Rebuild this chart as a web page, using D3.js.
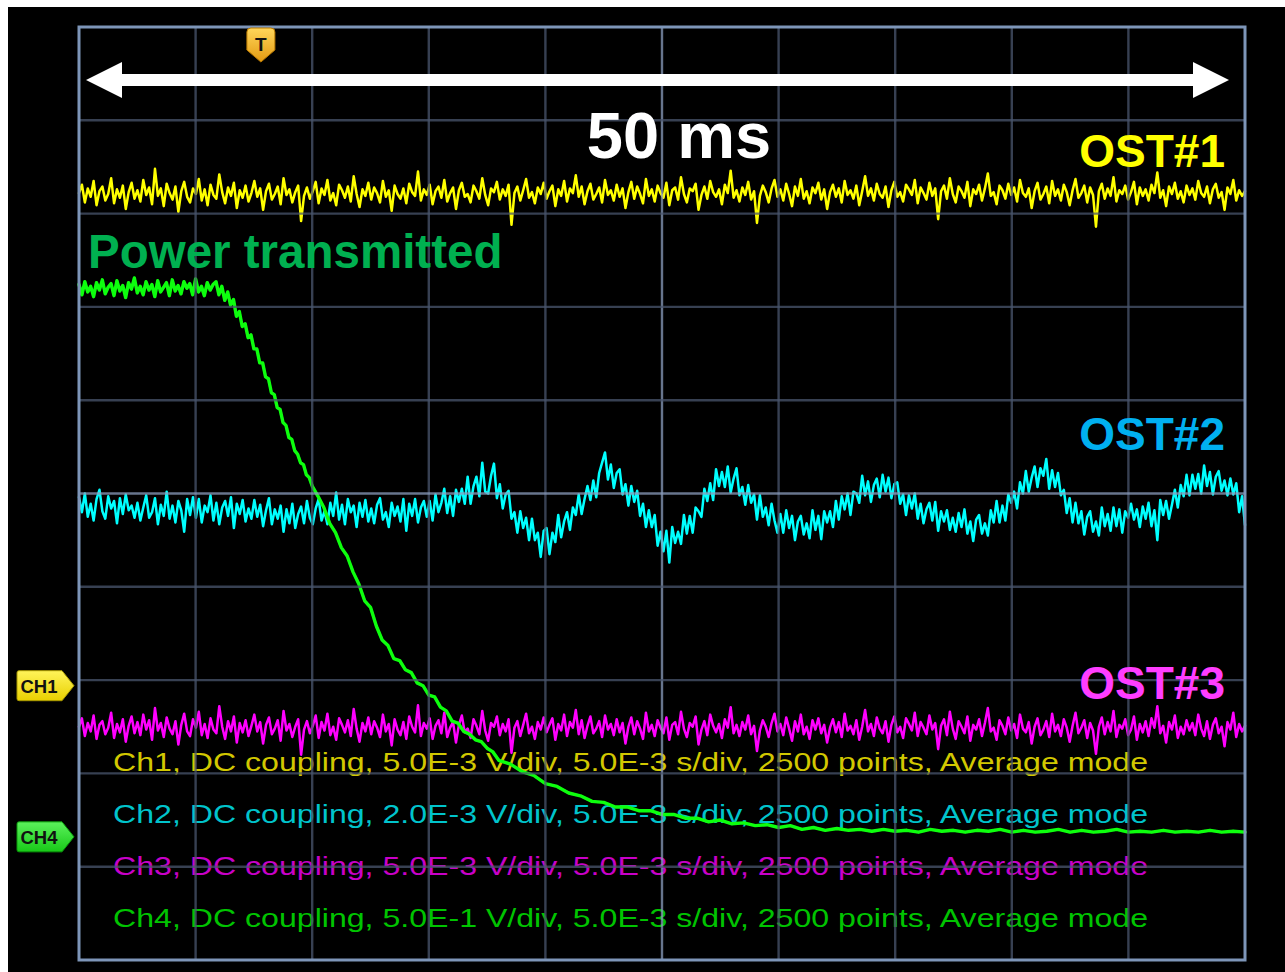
<!DOCTYPE html>
<html>
<head>
<meta charset="utf-8">
<script src="https://cdn.jsdelivr.net/npm/d3@7"></script>
<style>
html,body{margin:0;padding:0;background:#ffffff;}
svg{display:block;}
</style>
</head>
<body>
<svg id="chart" width="1285" height="972"></svg>
<script>
// ---------------- DATA ----------------
// time base: 10 divisions x 5 ms/div ; vertical: 10 divisions (values in graticule divisions, 0 = screen centre)
const timeDivisions = [0, 5, 10, 15, 20, 25, 30, 35, 40, 45, 50];           // ms
const levelDivisions = [-5, -4, -3, -2, -1, 0, 1, 2, 3, 4, 5];             // div
const spanLabel = "50 ms";
const triggerTime = 7.8;                                                    // ms
const channelMarkers = ["CH1", "CH4"];
const channelMarkerLevels = [-2.06, -3.68];                                 // div
const traceLabels = ["OST#1", "OST#2", "OST#3"];
const traceLabelLevels = [3.5, 0.47, -2.2];                                 // div (baseline)
const powerLabel = "Power transmitted";
const infoLines = [
  "Ch1, DC coupling, 5.0E-3 V/div, 5.0E-3 s/div, 2500 points, Average mode",
  "Ch2, DC coupling, 2.0E-3 V/div, 5.0E-3 s/div, 2500 points, Average mode",
  "Ch3, DC coupling, 5.0E-3 V/div, 5.0E-3 s/div, 2500 points, Average mode",
  "Ch4, DC coupling, 5.0E-1 V/div, 5.0E-3 s/div, 2500 points, Average mode"
];

// Ch1 (OST#1, yellow) - evenly sampled over 0..50 ms
const ch1 = [
3.22,3.31,3.12,3.27,3.18,3.35,3.09,3.24,3.29,3.14,3.21,3.38,3.11,3.26,3.17,3.30,3.05,3.23,3.33,3.16,
3.25,3.13,3.36,3.20,3.28,3.10,3.48,3.19,3.27,3.08,3.32,3.22,3.15,3.29,3.02,3.24,3.34,3.18,3.12,3.27,
3.21,3.37,3.14,3.26,3.09,3.31,3.20,3.16,3.42,3.23,3.11,3.28,3.19,3.33,3.06,3.25,3.17,3.30,3.13,3.22,
3.35,3.18,3.27,3.04,3.24,3.32,3.15,3.21,3.29,3.10,3.38,3.20,3.26,3.12,3.23,3.30,2.92,3.19,3.28,3.16,
3.24,3.34,3.11,3.27,3.20,3.36,3.14,3.22,3.09,3.31,3.25,3.17,3.29,3.13,3.40,3.21,3.07,3.26,3.19,3.33,
3.15,3.28,3.22,3.12,3.35,3.18,3.25,3.03,3.30,3.21,3.16,3.27,3.11,3.32,3.23,3.19,3.45,3.14,3.26,3.20,
3.31,3.10,3.24,3.29,3.17,3.36,3.13,3.22,3.28,3.05,3.25,3.33,3.18,3.21,3.12,3.30,3.24,3.16,3.38,3.20,
3.09,3.27,3.23,3.34,3.15,3.26,3.19,3.31,2.88,3.22,3.29,3.14,3.25,3.37,3.17,3.23,3.11,3.28,3.21,3.33,
3.16,3.24,3.30,3.08,3.26,3.19,3.35,3.13,3.27,3.22,3.41,3.18,3.29,3.10,3.24,3.32,3.15,3.21,3.28,3.12,
3.36,3.20,3.25,3.14,3.31,3.18,3.27,3.06,3.23,3.34,3.16,3.29,3.21,3.11,3.37,3.19,3.26,3.13,3.30,3.22,
3.17,3.33,3.09,3.25,3.28,3.15,3.39,3.21,3.12,3.27,3.24,3.32,3.04,3.20,3.29,3.16,3.35,3.23,3.18,3.26,
3.10,3.31,3.22,3.46,3.17,3.25,3.13,3.28,3.20,3.34,3.15,3.24,2.90,3.19,3.30,3.23,3.12,3.27,3.36,3.18,
3.26,3.14,3.32,3.21,3.08,3.29,3.19,3.37,3.16,3.24,3.11,3.28,3.22,3.33,3.15,3.26,3.05,3.23,3.31,3.18,
3.27,3.12,3.35,3.20,3.25,3.16,3.30,3.09,3.24,3.40,3.19,3.27,3.14,3.32,3.21,3.17,3.29,3.07,3.25,3.34,
3.18,3.23,3.13,3.31,3.26,3.20,3.36,3.11,3.28,3.22,3.15,3.33,3.19,3.27,2.94,3.24,3.30,3.16,3.38,3.21,
3.12,3.29,3.24,3.17,3.34,3.08,3.26,3.21,3.31,3.14,3.27,3.43,3.19,3.23,3.10,3.30,3.25,3.16,3.32,3.20,
3.28,3.13,3.36,3.22,3.18,3.27,3.06,3.24,3.33,3.15,3.21,3.29,3.11,3.35,3.19,3.26,3.14,3.31,3.23,3.09,
3.25,3.37,3.17,3.22,3.30,3.12,3.28,3.20,2.86,3.24,3.32,3.16,3.27,3.19,3.39,3.13,3.25,3.21,3.30,3.15,
3.23,3.34,3.10,3.28,3.19,3.26,3.14,3.31,3.22,3.44,3.17,3.25,3.08,3.29,3.21,3.33,3.16,3.24,3.12,3.30,
3.20,3.27,3.15,3.35,3.22,3.18,3.29,3.11,3.26,3.32,3.17,3.23,3.04,3.28,3.21,3.36,3.14,3.25,3.19,3.24
];

// Ch2 (OST#2, cyan) - evenly sampled over 0..50 ms
const ch2 = [
-0.04,-0.20,0.00,-0.25,-0.11,-0.29,-0.06,0.04,-0.19,-0.27,-0.03,-0.16,-0.08,-0.32,-0.05,-0.22,-0.01,-0.18,-0.13,-0.26,
-0.10,-0.29,-0.15,-0.02,-0.26,-0.20,-0.05,-0.33,-0.12,-0.24,0.02,-0.27,-0.13,-0.31,-0.08,-0.18,-0.41,-0.06,-0.23,-0.04,
-0.26,-0.06,-0.31,-0.13,-0.20,-0.02,-0.29,-0.10,-0.33,-0.15,-0.08,-0.24,-0.04,-0.37,-0.11,-0.22,-0.07,-0.30,-0.16,-0.27,
-0.07,-0.25,-0.12,-0.35,-0.18,-0.05,-0.33,-0.17,-0.27,-0.13,-0.41,-0.17,-0.32,-0.11,-0.37,-0.22,-0.14,-0.32,-0.08,-0.26,
-0.33,-0.16,-0.06,-0.29,-0.19,-0.33,-0.10,-0.24,0.01,-0.28,-0.12,-0.33,-0.06,-0.20,-0.13,-0.36,-0.10,-0.25,-0.07,-0.30,
-0.16,-0.32,-0.12,-0.05,-0.28,-0.20,-0.36,-0.10,-0.24,-0.14,-0.30,-0.06,-0.40,-0.11,-0.24,-0.06,-0.31,-0.15,-0.08,-0.25,
-0.08,-0.29,-0.01,-0.20,-0.10,0.05,-0.21,-0.03,-0.24,0.04,-0.09,0.05,-0.11,0.18,-0.11,0.08,0.18,-0.03,0.33,0.02,
0.00,0.19,0.32,-0.05,0.10,-0.16,-0.01,0.03,-0.27,-0.20,-0.42,-0.19,-0.37,-0.26,-0.50,-0.27,-0.50,-0.42,-0.68,-0.40,
-0.37,-0.65,-0.42,-0.52,-0.23,-0.47,-0.30,-0.20,-0.39,-0.15,-0.23,-0.01,-0.22,-0.06,0.08,-0.07,0.14,-0.04,0.22,0.33,
0.44,0.15,0.31,0.06,0.22,0.26,-0.01,0.10,-0.13,0.08,-0.09,0.03,-0.24,-0.11,-0.36,-0.18,-0.36,-0.23,-0.56,-0.41,
-0.62,-0.40,-0.74,-0.36,-0.53,-0.41,-0.54,-0.23,-0.43,-0.24,-0.42,-0.15,-0.19,-0.25,0.05,-0.08,0.11,-0.07,0.26,0.08,
0.23,0.07,0.29,0.01,0.16,0.27,-0.02,0.07,-0.12,0.09,-0.10,-0.01,-0.28,-0.02,-0.25,-0.15,-0.34,-0.11,-0.29,-0.42,
-0.22,-0.42,-0.18,-0.37,-0.24,-0.50,-0.30,-0.24,-0.44,-0.32,-0.48,-0.18,-0.39,-0.24,-0.49,-0.19,-0.31,-0.19,-0.36,-0.08,
-0.28,-0.03,-0.17,0.00,-0.23,0.02,0.00,-0.10,0.19,-0.02,0.13,-0.09,0.09,0.16,-0.04,0.20,0.02,0.17,-0.05,0.10,
0.12,-0.11,-0.01,-0.23,-0.02,-0.16,0.00,-0.27,-0.11,-0.32,-0.17,-0.10,-0.29,-0.09,-0.40,-0.19,-0.30,-0.18,-0.39,-0.26,
-0.41,-0.21,-0.36,-0.17,-0.43,-0.30,-0.51,-0.28,-0.23,-0.43,-0.32,-0.45,-0.18,-0.31,-0.08,-0.31,-0.13,-0.29,-0.01,-0.10,
0.02,-0.16,0.12,0.00,0.24,0.02,0.17,0.29,0.07,0.27,0.19,0.37,0.05,0.25,0.07,0.22,-0.02,0.04,-0.21,-0.05,
-0.31,-0.10,-0.32,-0.19,-0.44,-0.25,-0.19,-0.41,-0.30,-0.45,-0.15,-0.35,-0.22,-0.40,-0.15,-0.35,-0.17,-0.42,-0.19,-0.26,
-0.11,-0.28,-0.17,-0.36,-0.14,-0.27,-0.10,-0.35,-0.18,-0.50,-0.07,-0.23,-0.08,-0.27,-0.12,0.04,-0.15,0.09,-0.03,0.20,
-0.02,0.20,0.05,0.21,0.00,0.30,0.08,0.23,-0.01,0.18,0.24,0.03,0.14,-0.02,0.16,-0.01,0.11,-0.20,-0.03,-0.34
];

// Ch3 (OST#3, magenta) - evenly sampled over 0..50 ms
const ch3 = [
-2.50,-2.41,-2.60,-2.46,-2.55,-2.38,-2.63,-2.48,-2.44,-2.58,-2.51,-2.35,-2.62,-2.47,-2.56,-2.42,-2.66,-2.49,-2.39,-2.57,
-2.45,-2.59,-2.37,-2.53,-2.43,-2.64,-2.30,-2.54,-2.46,-2.61,-2.40,-2.52,-2.58,-2.44,-2.69,-2.48,-2.36,-2.55,-2.60,-2.42,
-2.51,-2.34,-2.59,-2.47,-2.62,-2.41,-2.53,-2.57,-2.28,-2.50,-2.63,-2.44,-2.55,-2.39,-2.67,-2.46,-2.56,-2.43,-2.60,-2.49,
-2.37,-2.55,-2.45,-2.68,-2.48,-2.40,-2.58,-2.52,-2.43,-2.65,-2.33,-2.54,-2.47,-2.61,-2.50,-2.42,-2.80,-2.53,-2.44,-2.57,
-2.49,-2.38,-2.62,-2.45,-2.54,-2.36,-2.59,-2.50,-2.64,-2.41,-2.48,-2.56,-2.43,-2.60,-2.31,-2.52,-2.66,-2.46,-2.55,-2.40,
-2.58,-2.44,-2.51,-2.61,-2.37,-2.55,-2.47,-2.70,-2.42,-2.53,-2.59,-2.45,-2.63,-2.39,-2.50,-2.56,-2.27,-2.60,-2.46,-2.52,
-2.41,-2.63,-2.49,-2.43,-2.57,-2.35,-2.61,-2.51,-2.45,-2.67,-2.48,-2.38,-2.56,-2.52,-2.62,-2.42,-2.49,-2.58,-2.33,-2.54,
-2.65,-2.46,-2.50,-2.39,-2.59,-2.47,-2.55,-2.42,-2.78,-2.51,-2.44,-2.60,-2.48,-2.36,-2.57,-2.50,-2.63,-2.45,-2.53,-2.40,
-2.56,-2.48,-2.41,-2.64,-2.47,-2.54,-2.37,-2.60,-2.45,-2.51,-2.32,-2.58,-2.43,-2.62,-2.49,-2.39,-2.57,-2.52,-2.44,-2.61,
-2.38,-2.53,-2.47,-2.59,-2.42,-2.56,-2.46,-2.68,-2.50,-2.40,-2.58,-2.44,-2.52,-2.63,-2.35,-2.55,-2.48,-2.60,-2.43,-2.51,
-2.57,-2.40,-2.64,-2.48,-2.45,-2.58,-2.34,-2.52,-2.61,-2.46,-2.50,-2.39,-2.69,-2.53,-2.44,-2.59,-2.37,-2.49,-2.56,-2.47,
-2.62,-2.42,-2.51,-2.29,-2.57,-2.48,-2.60,-2.45,-2.53,-2.38,-2.58,-2.49,-2.76,-2.54,-2.43,-2.50,-2.61,-2.46,-2.36,-2.55,
-2.47,-2.59,-2.40,-2.52,-2.65,-2.44,-2.55,-2.37,-2.58,-2.50,-2.63,-2.43,-2.53,-2.41,-2.57,-2.48,-2.67,-2.51,-2.42,-2.56,
-2.45,-2.61,-2.36,-2.54,-2.49,-2.58,-2.43,-2.64,-2.50,-2.32,-2.55,-2.47,-2.60,-2.40,-2.52,-2.57,-2.44,-2.66,-2.48,-2.39,
-2.56,-2.50,-2.62,-2.41,-2.47,-2.54,-2.35,-2.60,-2.45,-2.51,-2.58,-2.38,-2.53,-2.46,-2.74,-2.49,-2.42,-2.59,-2.34,-2.52,
-2.63,-2.44,-2.50,-2.57,-2.39,-2.65,-2.48,-2.53,-2.42,-2.60,-2.46,-2.30,-2.55,-2.51,-2.64,-2.43,-2.49,-2.58,-2.40,-2.54,
-2.47,-2.62,-2.37,-2.52,-2.56,-2.45,-2.68,-2.50,-2.41,-2.59,-2.53,-2.44,-2.61,-2.36,-2.55,-2.48,-2.60,-2.42,-2.51,-2.66,
-2.49,-2.35,-2.57,-2.51,-2.43,-2.62,-2.46,-2.54,-2.79,-2.50,-2.40,-2.58,-2.45,-2.55,-2.33,-2.61,-2.48,-2.52,-2.42,-2.59,
-2.53,-2.39,-2.64,-2.47,-2.56,-2.44,-2.60,-2.41,-2.51,-2.28,-2.57,-2.49,-2.67,-2.45,-2.53,-2.38,-2.62,-2.50,-2.58,-2.43,
-2.54,-2.46,-2.59,-2.37,-2.52,-2.60,-2.44,-2.63,-2.48,-2.41,-2.57,-2.50,-2.71,-2.45,-2.53,-2.35,-2.61,-2.47,-2.55,-2.49
];

// Ch4 (power transmitted, green) - sample times (ms) and levels (div)
const ch4Time = [
0,0.125,0.25,0.375,0.5,0.625,0.75,0.875,1,1.125,1.25,1.375,1.5,1.625,1.75,1.875,2,2.125,2.25,2.375,
2.5,2.625,2.75,2.875,3,3.125,3.25,3.375,3.5,3.625,3.75,3.875,4,4.125,4.25,4.375,4.5,4.625,4.75,4.875,
5,5.125,5.25,5.375,5.5,5.625,5.75,
5.875,6,6.125,6.25,6.375,6.5,6.625,6.75,6.875,7,7.125,7.25,7.375,7.5,7.625,7.75,7.875,8,8.125,8.25,
8.375,8.5,8.625,8.75,8.875,9,9.125,9.25,9.375,9.5,9.625,9.75,9.875,10,
10.25,10.5,10.75,11,11.25,11.5,11.75,12,12.25,12.5,12.75,13,13.25,13.5,13.75,14,14.25,14.5,14.75,15,
15.25,15.5,15.75,16,16.25,16.5,16.75,17,17.25,17.5,17.75,18,
18.5,19,19.5,20,20.5,21,21.5,22,22.5,23,23.5,24,24.5,25,25.5,26,26.5,27,27.5,28,28.5,29,29.5,30,
30.5,31,31.5,32,32.5,33,33.5,34,34.5,35,35.5,36,36.5,37,37.5,38,38.5,39,39.5,40,40.5,41,41.5,42,
42.5,43,43.5,44,44.5,45,45.5,46,46.5,47,47.5,48,48.5,49,49.5,50
];
const ch4 = [
2.24,2.13,2.27,2.16,2.22,2.11,2.26,2.18,2.29,2.14,2.21,2.25,2.12,2.28,2.17,2.23,2.10,2.26,2.19,2.31,
2.15,2.22,2.13,2.27,2.18,2.24,2.11,2.28,2.16,2.21,2.26,2.12,2.29,2.17,2.23,2.14,2.27,2.20,2.25,2.13,
2.30,2.16,2.22,2.12,2.26,2.18,2.24,
2.27,2.13,2.22,2.07,2.16,2.02,2.08,1.90,1.95,1.79,1.82,1.67,1.70,1.55,1.55,1.40,1.40,1.25,1.23,1.08,
1.06,0.92,0.90,0.76,0.73,0.60,0.58,0.46,0.42,0.33,0.31,0.20,0.17,0.08,
-0.03,-0.15,-0.32,-0.42,-0.58,-0.67,-0.84,-0.97,-1.15,-1.22,-1.42,-1.57,-1.63,-1.77,-1.79,-1.89,-1.92,-2.03,-2.06,-2.16,
-2.18,-2.29,-2.33,-2.44,-2.46,-2.55,-2.58,-2.64,-2.66,-2.73,-2.77,-2.86,
-2.90,-2.98,-3.02,-3.11,-3.14,-3.21,-3.24,-3.30,-3.31,-3.36,-3.36,-3.40,-3.40,-3.44,-3.44,-3.48,-3.48,-3.52,-3.50,-3.54,-3.53,-3.56,-3.55,-3.58,
-3.56,-3.60,-3.58,-3.61,-3.59,-3.61,-3.60,-3.62,-3.60,-3.62,-3.61,-3.63,-3.60,-3.62,-3.61,-3.63,-3.61,-3.62,-3.60,-3.63,-3.61,-3.63,-3.62,-3.60,
-3.63,-3.61,-3.63,-3.62,-3.60,-3.63,-3.62,-3.63,-3.61,-3.63,-3.62,-3.63,-3.61,-3.63,-3.62,-3.63
];

// ---------------- DRAWING ----------------
const W = 1285, H = 972;
const svg = d3.select("#chart");
const x = d3.scaleLinear().domain([0, 50]).range([79, 1245]);
const y = d3.scaleLinear().domain([-5, 5]).range([960, 27]);

const defs = svg.append("defs");
defs.append("filter").attr("id", "soft").attr("x", "-2%").attr("y", "-20%").attr("width", "104%").attr("height", "140%")
  .append("feGaussianBlur").attr("stdDeviation", 0.55);
const tg = defs.append("linearGradient").attr("id", "trigGrad").attr("x1", 0).attr("y1", 0).attr("x2", 0).attr("y2", 1);
tg.append("stop").attr("offset", "0%").attr("stop-color", "#ffd65a");
tg.append("stop").attr("offset", "100%").attr("stop-color", "#e39a12");
const g1 = defs.append("linearGradient").attr("id", "ch1Grad").attr("x1", 0).attr("y1", 0).attr("x2", 0).attr("y2", 1);
g1.append("stop").attr("offset", "0%").attr("stop-color", "#fff45a");
g1.append("stop").attr("offset", "100%").attr("stop-color", "#e8d000");
const g4 = defs.append("linearGradient").attr("id", "ch4Grad").attr("x1", 0).attr("y1", 0).attr("x2", 0).attr("y2", 1);
g4.append("stop").attr("offset", "0%").attr("stop-color", "#5cf25c");
g4.append("stop").attr("offset", "100%").attr("stop-color", "#18c818");

// black screen
svg.append("rect").attr("x", 8).attr("y", 7).attr("width", W - 8).attr("height", H - 7).attr("fill", "#000");

// info text (behind traces and grid)
const infoColors = ["#d2c800", "#00c4cc", "#c800c8", "#00c400"];
const infoBase = [771, 823, 875, 927];
svg.append("g").selectAll("text").data(infoLines).join("text")
  .attr("x", 113).attr("y", (d, i) => infoBase[i])
  .attr("font-family", "'Liberation Sans', Arial, sans-serif")
  .attr("font-size", 26)
  .attr("textLength", 1035).attr("lengthAdjust", "spacingAndGlyphs")
  .attr("fill", (d, i) => infoColors[i])
  .text(d => d);

// traces
const n1 = ch1.length, n2 = ch2.length, n3 = ch3.length;
const lineEven = (n) => d3.line().x((d, i) => x(i * 50 / (n - 1))).y(d => y(d));
const traces = svg.append("g").attr("filter", "url(#soft)").attr("fill", "none")
  .attr("stroke-linejoin", "round").attr("stroke-linecap", "round");
traces.append("path").attr("d", lineEven(n1)(ch1)).attr("stroke", "#ffff00").attr("stroke-width", 2.5);
traces.append("path").attr("d", lineEven(n2)(ch2)).attr("stroke", "#00ffff").attr("stroke-width", 2.5);
traces.append("path").attr("d", lineEven(n3)(ch3)).attr("stroke", "#ff00ff").attr("stroke-width", 2.5);
const ch4Line = d3.line().x((d, i) => x(ch4Time[i])).y(d => y(d));
traces.append("path").attr("d", ch4Line(ch4)).attr("stroke", "#10ff10").attr("stroke-width", 3.4);

// graticule
const grid = svg.append("g").attr("stroke-opacity", 0.75);
grid.selectAll("line.v").data(timeDivisions.slice(1, -1)).join("line").attr("class", "v")
  .attr("x1", d => x(d)).attr("x2", d => x(d)).attr("y1", y(5)).attr("y2", y(-5))
  .attr("stroke", d => d === 25 ? "#8a9cbc" : "#4a566e").attr("stroke-width", 2.4);
grid.selectAll("line.h").data(levelDivisions.slice(1, -1)).join("line").attr("class", "h")
  .attr("y1", d => y(d)).attr("y2", d => y(d)).attr("x1", x(0)).attr("x2", x(50))
  .attr("stroke", d => d === 0 ? "#8a9cbc" : "#4a566e").attr("stroke-width", 2.4);
svg.append("rect").attr("x", x(0)).attr("y", y(5)).attr("width", x(50) - x(0)).attr("height", y(-5) - y(5))
  .attr("fill", "none").attr("stroke", "#7d95b8").attr("stroke-width", 3);

// trigger marker
const tx = x(triggerTime);
svg.append("path")
  .attr("d", `M${tx - 14},32 Q${tx - 14},28 ${tx - 10},28 L${tx + 10},28 Q${tx + 14},28 ${tx + 14},32 L${tx + 14},50 L${tx},62 L${tx - 14},50 Z`)
  .attr("fill", "url(#trigGrad)").attr("stroke", "#b87800").attr("stroke-width", 1);
svg.append("text").attr("x", tx).attr("y", 51).attr("text-anchor", "middle")
  .attr("font-family", "'Liberation Sans', Arial, sans-serif").attr("font-weight", "bold")
  .attr("font-size", 19).attr("fill", "#111").text("T");

// channel markers
channelMarkers.forEach((name, i) => {
  const cy = y(channelMarkerLevels[i]);
  svg.append("path")
    .attr("d", `M19,${cy - 15} L62,${cy - 15} L74,${cy} L62,${cy + 15} L19,${cy + 15} Q17,${cy + 15} 17,${cy + 13} L17,${cy - 13} Q17,${cy - 15} 19,${cy - 15} Z`)
    .attr("fill", i === 0 ? "url(#ch1Grad)" : "url(#ch4Grad)")
    .attr("stroke", i === 0 ? "#a89800" : "#0a9a0a").attr("stroke-width", 1);
  svg.append("text").attr("x", 39).attr("y", cy + 7).attr("text-anchor", "middle")
    .attr("font-family", "'Liberation Sans', Arial, sans-serif").attr("font-weight", "bold")
    .attr("font-size", 19).attr("textLength", 37).attr("lengthAdjust", "spacingAndGlyphs")
    .attr("fill", "#111").text(name);
});

// span arrow
const ay = 80, ax0 = x(0) + 7, ax1 = x(50) - 16, head = 36, hh = 18, sh = 6;
svg.append("path")
  .attr("d", `M${ax0},${ay} L${ax0 + head},${ay - hh} L${ax0 + head},${ay - sh} L${ax1 - head},${ay - sh} L${ax1 - head},${ay - hh} L${ax1},${ay} L${ax1 - head},${ay + hh} L${ax1 - head},${ay + sh} L${ax0 + head},${ay + sh} L${ax0 + head},${ay + hh} Z`)
  .attr("fill", "#ffffff");
svg.append("text").attr("x", 679).attr("y", 158).attr("text-anchor", "middle")
  .attr("font-family", "'Liberation Sans', Arial, sans-serif").attr("font-weight", "bold")
  .attr("font-size", 65).attr("fill", "#ffffff").text(spanLabel);

// labels
const labelColors = ["#ffff00", "#00b0f0", "#ff3dff"];
svg.append("g").selectAll("text").data(traceLabels).join("text")
  .attr("x", 1225).attr("y", (d, i) => y(traceLabelLevels[i]))
  .attr("text-anchor", "end")
  .attr("font-family", "'Liberation Sans', Arial, sans-serif").attr("font-weight", "bold")
  .attr("font-size", 46).attr("fill", (d, i) => labelColors[i]).text(d => d);
svg.append("text").attr("x", 88).attr("y", 268)
  .attr("font-family", "'Liberation Sans', Arial, sans-serif").attr("font-weight", "bold")
  .attr("font-size", 47.5).attr("fill", "#00b050").text(powerLabel);
</script>
</body>
</html>
